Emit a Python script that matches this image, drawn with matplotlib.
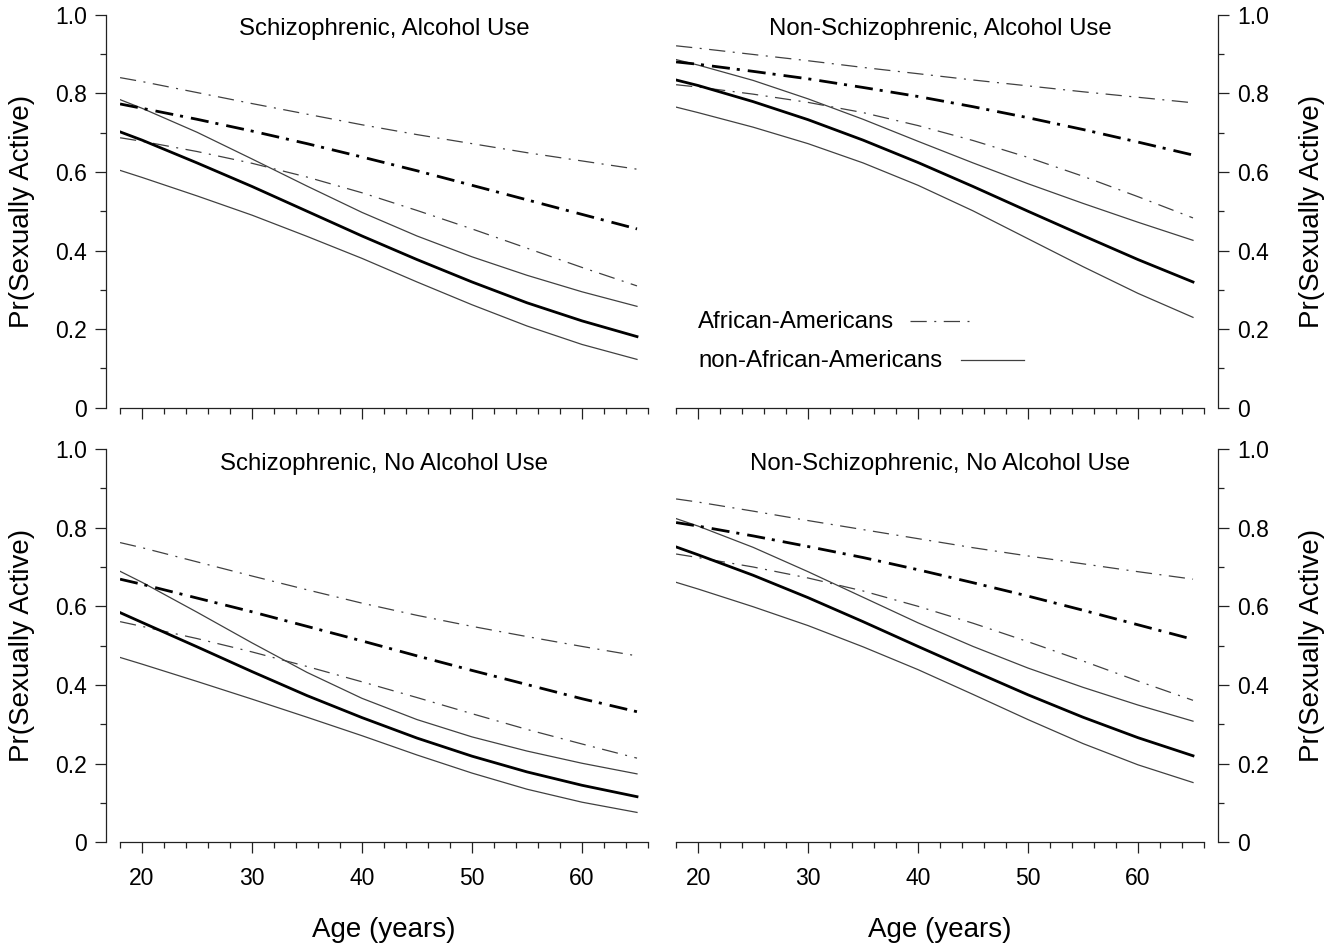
import matplotlib
matplotlib.use('Agg')
import matplotlib.pyplot as plt
from matplotlib.lines import Line2D

plt.rcParams['font.family'] = ['Liberation Sans', 'DejaVu Sans']

ages = [18, 20, 25, 30, 35, 40, 45, 50, 55, 60, 65]

# Schizophrenic, Alcohol Use
sa_aa_mean = [0.773, 0.762, 0.734, 0.704, 0.672, 0.638, 0.603, 0.566, 0.529, 0.492, 0.455]
sa_aa_hi = [0.840, 0.830, 0.802, 0.774, 0.747, 0.720, 0.695, 0.672, 0.649, 0.628, 0.607]
sa_aa_lo = [0.687, 0.678, 0.652, 0.622, 0.587, 0.547, 0.502, 0.455, 0.406, 0.357, 0.310]
sa_non_mean = [0.702, 0.681, 0.623, 0.563, 0.500, 0.437, 0.377, 0.320, 0.267, 0.221, 0.181]
sa_non_hi = [0.784, 0.762, 0.701, 0.633, 0.564, 0.497, 0.437, 0.384, 0.337, 0.295, 0.258]
sa_non_lo = [0.604, 0.586, 0.539, 0.490, 0.436, 0.380, 0.320, 0.262, 0.208, 0.161, 0.123]

# Non-Schizophrenic, Alcohol Use
na_aa_mean = [0.880, 0.874, 0.856, 0.837, 0.815, 0.792, 0.766, 0.738, 0.708, 0.676, 0.643]
na_aa_hi = [0.921, 0.915, 0.899, 0.883, 0.866, 0.850, 0.834, 0.819, 0.804, 0.790, 0.776]
na_aa_lo = [0.822, 0.816, 0.798, 0.777, 0.751, 0.718, 0.680, 0.637, 0.589, 0.537, 0.483]
na_non_mean = [0.834, 0.820, 0.779, 0.733, 0.681, 0.624, 0.563, 0.500, 0.438, 0.377, 0.320]
na_non_hi = [0.886, 0.872, 0.833, 0.786, 0.734, 0.678, 0.623, 0.570, 0.520, 0.472, 0.426]
na_non_lo = [0.765, 0.751, 0.714, 0.672, 0.623, 0.566, 0.501, 0.430, 0.359, 0.291, 0.230]

# Schizophrenic, No Alcohol Use
sn_aa_mean = [0.669, 0.656, 0.621, 0.586, 0.549, 0.512, 0.474, 0.437, 0.401, 0.365, 0.332]
sn_aa_hi = [0.762, 0.749, 0.713, 0.677, 0.642, 0.608, 0.577, 0.549, 0.523, 0.498, 0.474]
sn_aa_lo = [0.561, 0.549, 0.518, 0.484, 0.447, 0.408, 0.368, 0.327, 0.287, 0.250, 0.214]
sn_non_mean = [0.584, 0.559, 0.497, 0.434, 0.373, 0.317, 0.265, 0.219, 0.179, 0.145, 0.116]
sn_non_hi = [0.689, 0.661, 0.585, 0.507, 0.432, 0.366, 0.312, 0.268, 0.232, 0.201, 0.174]
sn_non_lo = [0.470, 0.453, 0.409, 0.364, 0.318, 0.271, 0.222, 0.176, 0.135, 0.102, 0.076]

# Non-Schizophrenic, No Alcohol Use
nn_aa_mean = [0.813, 0.804, 0.779, 0.752, 0.724, 0.693, 0.660, 0.626, 0.590, 0.553, 0.516]
nn_aa_hi = [0.873, 0.865, 0.842, 0.818, 0.795, 0.772, 0.749, 0.728, 0.708, 0.688, 0.669]
nn_aa_lo = [0.733, 0.724, 0.700, 0.672, 0.639, 0.600, 0.557, 0.510, 0.461, 0.410, 0.361]
nn_non_mean = [0.751, 0.731, 0.679, 0.622, 0.561, 0.498, 0.436, 0.375, 0.318, 0.266, 0.220]
nn_non_hi = [0.823, 0.804, 0.750, 0.688, 0.623, 0.558, 0.498, 0.443, 0.394, 0.349, 0.308]
nn_non_lo = [0.661, 0.644, 0.599, 0.551, 0.497, 0.439, 0.376, 0.312, 0.251, 0.197, 0.152]

x_major = [20, 30, 40, 50, 60]
x_minor = list(range(18, 67, 2))
y_major = [0, 0.2, 0.4, 0.6, 0.8, 1.0]
y_major_labels = ['0', '0.2', '0.4', '0.6', '0.8', '1.0']
y_minor = [0.1, 0.3, 0.5, 0.7, 0.9]

THIN_DD = (0, (13, 6, 1.6, 6))
THICK_DD = (0, (6.5, 2.5, 1.1, 2.9))
THIN_COL = '#404040'
AX_COL = '#222222'


def draw_panel(ax, title, aa_mean, aa_lo, aa_hi, non_mean, non_lo, non_hi,
               right=False, bottom=False):
    # confidence limits first, then the fitted curves on top
    for ys in (aa_hi, aa_lo):
        ax.plot(ages, ys, color=THIN_COL, lw=0.9, ls=THIN_DD)
    for ys in (non_hi, non_lo):
        ax.plot(ages, ys, color=THIN_COL, lw=0.9, ls='-')
    ax.plot(ages, aa_mean, color='black', lw=2.0, ls=THICK_DD)
    ax.plot(ages, non_mean, color='black', lw=2.0, ls='-')

    ax.set_xlim(18, 66)
    ax.set_ylim(0, 1)
    ax.set_xticks(x_major)
    ax.set_xticks(x_minor, minor=True)
    ax.set_yticks(y_major)
    ax.set_yticklabels(y_major_labels)
    ax.set_yticks(y_minor, minor=True)

    ax.spines['top'].set_visible(False)
    side = 'right' if right else 'left'
    other = 'left' if right else 'right'
    ax.spines[other].set_visible(False)
    ax.spines[side].set_position(('outward', 10))
    for s in (side, 'bottom'):
        ax.spines[s].set_color(AX_COL)
        ax.spines[s].set_linewidth(0.9)

    if right:
        ax.yaxis.tick_right()
        ax.yaxis.set_label_position('right')

    ax.tick_params(which='both', direction='out', color=AX_COL, width=0.9,
                   labelsize=16.5)
    ax.tick_params(which='major', length=8)
    ax.tick_params(which='minor', length=4.5)
    ax.tick_params(axis='x', pad=10, labelbottom=bottom)
    ax.tick_params(axis='y', pad=6)

    ax.set_ylabel('Pr(Sexually Active)', fontsize=20)
    ax.yaxis.label.set_va('center')
    ax.yaxis.set_label_coords(1.2045 if right else -0.1856, 0.5)
    if bottom:
        ax.set_xlabel('Age (years)', fontsize=20)
        ax.xaxis.label.set_va('center')
        ax.xaxis.set_label_coords(0.5, -0.223)

    ax.text(0.5, 0.963, title, transform=ax.transAxes, ha='center',
            va='center', fontsize=17.3)


fig = plt.figure(figsize=(13.43, 9.46), dpi=100)
ax_tl = fig.add_axes([0.0894, 0.5690, 0.3931, 0.4154])
ax_tr = fig.add_axes([0.5034, 0.5690, 0.3931, 0.4154])
ax_bl = fig.add_axes([0.0894, 0.1096, 0.3931, 0.4158])
ax_br = fig.add_axes([0.5034, 0.1096, 0.3931, 0.4158])

draw_panel(ax_tl, 'Schizophrenic, Alcohol Use', sa_aa_mean, sa_aa_lo, sa_aa_hi,
           sa_non_mean, sa_non_lo, sa_non_hi)
draw_panel(ax_tr, 'Non-Schizophrenic, Alcohol Use', na_aa_mean, na_aa_lo, na_aa_hi,
           na_non_mean, na_non_lo, na_non_hi, right=True)
draw_panel(ax_bl, 'Schizophrenic, No Alcohol Use', sn_aa_mean, sn_aa_lo, sn_aa_hi,
           sn_non_mean, sn_non_lo, sn_non_hi, bottom=True)
draw_panel(ax_br, 'Non-Schizophrenic, No Alcohol Use', nn_aa_mean, nn_aa_lo, nn_aa_hi,
           nn_non_mean, nn_non_lo, nn_non_hi, right=True, bottom=True)

# key in the upper right panel: label first, line sample after it
ax_tr.text(0.0417, 0.218, 'African-Americans', transform=ax_tr.transAxes,
           ha='left', va='center', fontsize=17.3)
ax_tr.text(0.0417, 0.119, 'non-African-Americans', transform=ax_tr.transAxes,
           ha='left', va='center', fontsize=17.3)
ax_tr.add_line(Line2D([0.443, 0.564], [0.221, 0.221], transform=ax_tr.transAxes,
                      color=THIN_COL, lw=0.9, ls=THIN_DD))
ax_tr.add_line(Line2D([0.539, 0.6585], [0.121, 0.121], transform=ax_tr.transAxes,
                      color=THIN_COL, lw=0.9, ls='-'))

fig.savefig('out.png', dpi=100)
